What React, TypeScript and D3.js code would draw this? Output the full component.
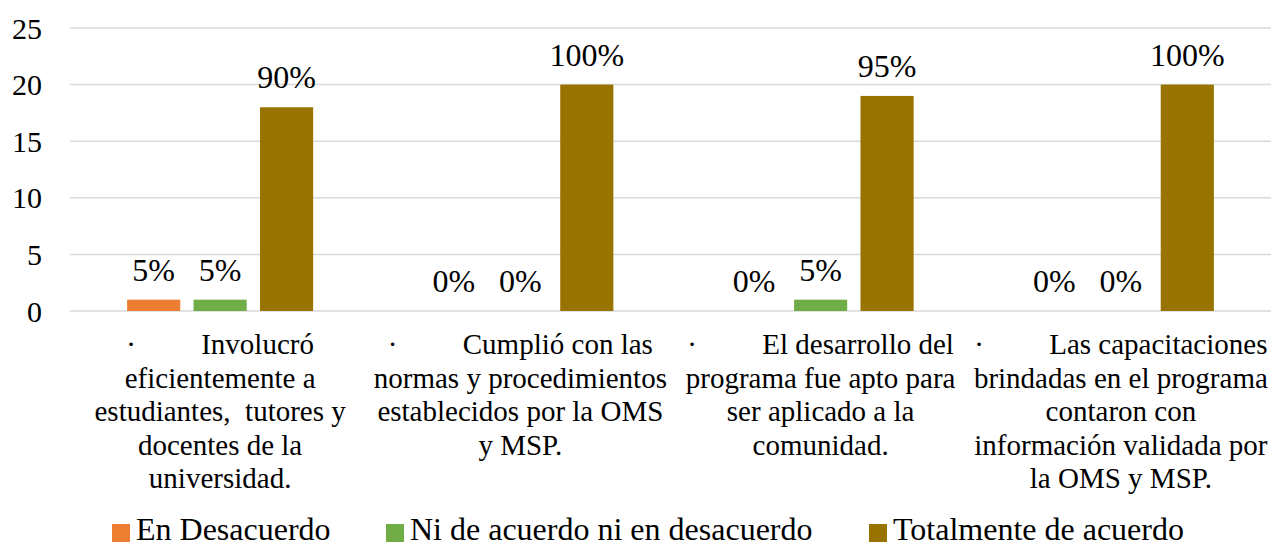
import { useEffect, useRef } from "react";
import * as d3 from "d3";

const categories = ["c1", "c2", "c3", "c4"];
const categoryLines = [
    ["·         Involucró", "eficientemente a", "estudiantes,  tutores y", "docentes de la", "universidad."],
    ["·         Cumplió con las", "normas y procedimientos", "establecidos por la OMS", "y MSP."],
    ["·         El desarrollo del", "programa fue apto para", "ser aplicado a la", "comunidad."],
    ["·         Las capacitaciones", "brindadas en el programa", "contaron con", "información validada por", "la OMS y MSP."],
];
const seriesNames = ["En Desacuerdo", "Ni de acuerdo ni en desacuerdo", "Totalmente de acuerdo"];
const seriesColors = ["#ED7D31", "#70AD47", "#997300"];
const desacuerdo = [1, 0, 0, 0];
const neutral = [1, 0, 1, 0];
const totalmente = [18, 20, 19, 20];
const desacuerdoPct = ["5%", "0%", "0%", "0%"];
const neutralPct = ["5%", "0%", "5%", "0%"];
const totalmentePct = ["90%", "100%", "95%", "100%"];
const yTicks = [0, 5, 10, 15, 20, 25];

export default function App() {
    const chartRef = useRef<SVGSVGElement | null>(null);

    useEffect(() => {
        if (!chartRef.current) return;

        const width = 1272;
        const height = 548;
        const left = 70;
        const right = 1271;
        const top = 28;
        const bottom = 311;
        const font = "Liberation Serif, DejaVu Serif, serif";

        d3.select(chartRef.current).selectAll("*").remove();

        const svg = d3
            .select(chartRef.current)
            .attr("width", width)
            .attr("height", height)
            .attr("font-family", font);

        const x0 = d3.scaleBand().domain(categories).range([left, right]).padding(0);
        const x1 = d3
            .scaleBand()
            .domain(seriesNames)
            .range([0, x0.bandwidth()])
            .paddingInner(0.2)
            .paddingOuter(0.86);
        const y = d3.scaleLinear().domain([0, 25]).range([bottom, top]);

        // gridlines
        svg.append("g")
            .selectAll("line")
            .data(yTicks)
            .join("line")
            .attr("x1", left)
            .attr("x2", right)
            .attr("y1", (d) => y(d))
            .attr("y2", (d) => y(d))
            .attr("stroke", "#D9D9D9")
            .attr("stroke-width", 1.5);

        svg.append("g")
            .selectAll("text")
            .data(yTicks)
            .join("text")
            .attr("x", 42)
            .attr("y", (d) => y(d))
            .attr("dy", "0.35em")
            .attr("text-anchor", "end")
            .attr("font-size", 30)
            .attr("fill", "#000")
            .text((d) => d);

        const series = [
            { name: seriesNames[0], values: desacuerdo, labels: desacuerdoPct },
            { name: seriesNames[1], values: neutral, labels: neutralPct },
            { name: seriesNames[2], values: totalmente, labels: totalmentePct },
        ];

        series.forEach((s, si) => {
            const g = svg.append("g");
            g.selectAll("rect")
                .data(categories)
                .join("rect")
                .attr("x", (c) => (x0(c) ?? 0) + (x1(s.name) ?? 0))
                .attr("width", x1.bandwidth())
                .attr("y", (c, i) => y(s.values[i]))
                .attr("height", (c, i) => y(0) - y(s.values[i]))
                .attr("fill", seriesColors[si]);

            g.selectAll("text")
                .data(categories)
                .join("text")
                .attr("x", (c) => (x0(c) ?? 0) + (x1(s.name) ?? 0) + x1.bandwidth() / 2)
                .attr("y", (c, i) => y(s.values[i]) - 19)
                .attr("text-anchor", "middle")
                .attr("font-size", 32)
                .attr("fill", "#000")
                .text((c, i) => s.labels[i]);
        });

        // category labels
        const catG = svg.append("g");
        categories.forEach((c, ci) => {
            const t = catG
                .append("text")
                .attr("text-anchor", "middle")
                .attr("font-size", 29)
                .attr("fill", "#000")
                .style("white-space", "pre");
            categoryLines[ci].forEach((line, li) => {
                t.append("tspan")
                    .attr("x", (x0(c) ?? 0) + x0.bandwidth() / 2)
                    .attr("y", 354 + li * 33.5)
                    .text(line);
            });
        });

        // legend
        const legendX = [112, 386, 869];
        const legend = svg.append("g");
        seriesNames.forEach((name, i) => {
            legend
                .append("rect")
                .attr("x", legendX[i])
                .attr("y", 524)
                .attr("width", 18)
                .attr("height", 18)
                .attr("fill", seriesColors[i]);
            legend
                .append("text")
                .attr("x", legendX[i] + 24)
                .attr("y", 540)
                .attr("font-size", 32)
                .attr("fill", "#000")
                .text(name);
        });
    }, []);

    return (
        <>
            <style>{"body{margin:0}"}</style>
            <svg ref={(el) => { if (el) chartRef.current = el; }} style={{ display: "block" }} />
        </>
    );
}
